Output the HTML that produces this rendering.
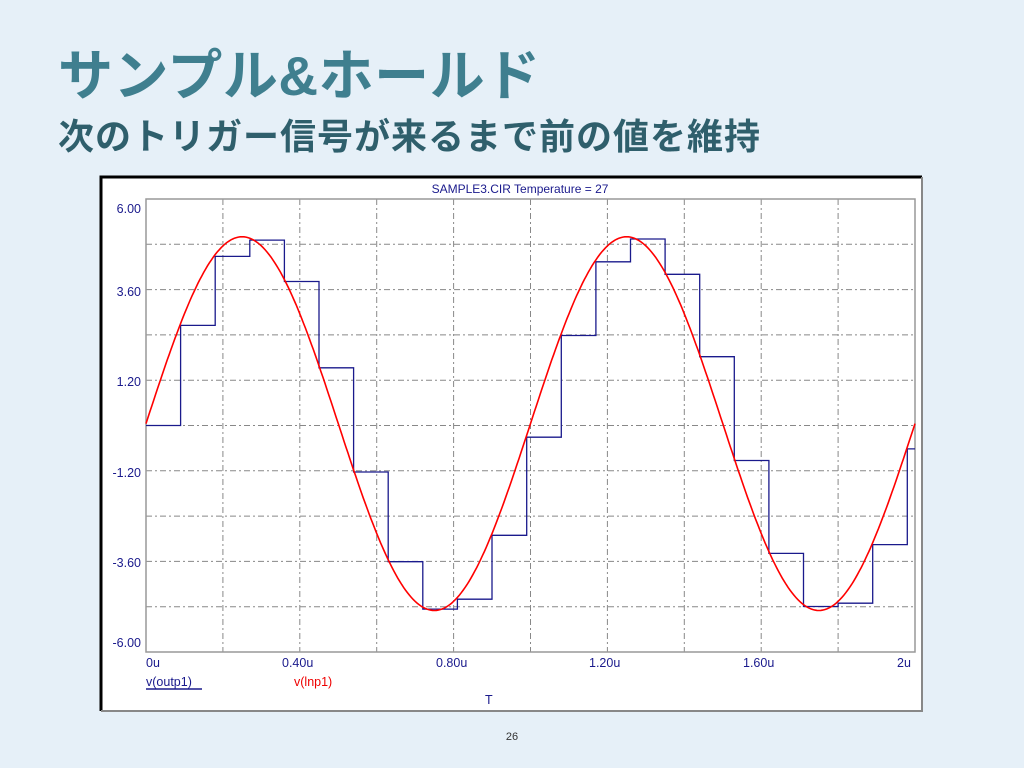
<!DOCTYPE html>
<html><head><meta charset="utf-8"><style>
body{margin:0;width:1024px;height:768px;background:#e6f0f8;overflow:hidden;font-family:"Liberation Sans","Noto Sans CJK JP",sans-serif;position:relative}
.t1{position:absolute;left:58px;top:36px;font-size:55px;line-height:80px;font-weight:bold;color:#3f7f8f;letter-spacing:0.5px;white-space:nowrap}
.t2{position:absolute;left:58px;top:114px;font-size:36px;line-height:46px;font-weight:bold;color:#2f5f6c;letter-spacing:1px;white-space:nowrap}
.pg{position:absolute;left:0;width:1024px;top:731px;text-align:center;font-size:11px;color:#333}
svg{position:absolute;left:0;top:0}
</style></head><body>
<div class="t1">サンプル&amp;ホールド</div>
<div class="t2">次のトリガー信号が来るまで前の値を維持</div>
<svg width="1024" height="768" id="s" font-family="Liberation Sans, sans-serif">
<rect x="101" y="177" width="821" height="534" fill="#fff"/>
<path d="M101 711V177H922" stroke="#000" stroke-width="3" fill="none"/>
<path d="M101 711H922V177" stroke="#888" stroke-width="2" fill="none"/>
<text x="520" y="193" font-size="12" fill="#1a1a8c" text-anchor="middle">SAMPLE3.CIR Temperature = 27</text>
<g id="grid" stroke="#888" stroke-dasharray="6,3,2,3" stroke-width="1"></g>
<rect x="146" y="199" width="769" height="453" fill="none" stroke="#999" stroke-width="1.5"/>
<g font-size="12.5" fill="#1a1a8c" text-anchor="end">
<text x="141" y="213">6.00</text><text x="141" y="296">3.60</text><text x="141" y="386">1.20</text>
<text x="141" y="477">-1.20</text><text x="141" y="567">-3.60</text><text x="141" y="647">-6.00</text>
</g>
<g font-size="12.5" fill="#1a1a8c">
<text x="146" y="667">0u</text><text x="282" y="667">0.40u</text><text x="436" y="667">0.80u</text>
<text x="589" y="667">1.20u</text><text x="743" y="667">1.60u</text><text x="897" y="667">2u</text>
<text x="146" y="686">v(outp1)</text><text x="294" y="686" fill="#e00">v(lnp1)</text>
<text x="485" y="704">T</text>
</g>
<line x1="146" y1="689" x2="202" y2="689" stroke="#1a1a8c" stroke-width="1.5"/>
<path id="hold" fill="none" stroke="#1a1a8c" stroke-width="1.3"/>
<path id="sine" fill="none" stroke="#f00" stroke-width="1.6"/>
</svg>
<div class="pg">26</div>
<script>
var X0=146,W=769,Y0=425.5,K=37.75,A=4.95;
function X(t){return X0+t/2*W}function Y(v){return Y0-v*K}
var g=document.getElementById('grid'),h='';
for(var i=1;i<10;i++){var x=X0+i*W/10;h+='<line x1="'+x+'" y1="199" x2="'+x+'" y2="652"/>';var y=199+i*45.3;h+='<line x1="146" y1="'+y+'" x2="915" y2="'+y+'"/>';}
g.innerHTML=h;
var d='';for(var i=0;i<=400;i++){var t=i*2/400;d+=(i?'L':'M')+X(t).toFixed(1)+' '+Y(A*Math.sin(2*Math.PI*t)+0.05).toFixed(1);}
document.getElementById('sine').setAttribute('d',d);
var p='M'+X0+' '+Y(0),v=0;
for(var k=1;k*0.09<2;k++){var t=k*0.09;p+='L'+X(t).toFixed(1)+' '+Y(v).toFixed(1);v=A*Math.sin(2*Math.PI*t);p+='L'+X(t).toFixed(1)+' '+Y(v).toFixed(1);}
p+='L915 '+Y(v).toFixed(1);
document.getElementById('hold').setAttribute('d',p);
</script>
</body></html>
